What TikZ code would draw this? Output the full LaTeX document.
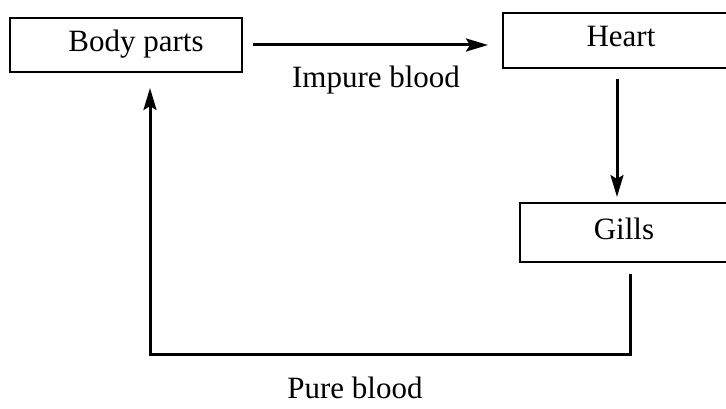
\documentclass[tikz,border=0pt]{standalone}
\usepackage{fontspec}
\setmainfont{Liberation Serif}
\usetikzlibrary{arrows.meta,calc}
\begin{document}
\begin{tikzpicture}[x=1pt,y=-1pt,
  box/.style={draw,line width=2.3pt,minimum width=#1,minimum height=55pt,inner sep=0pt},
  lbl/.style={anchor=base,inner sep=0pt,font=\fontsize{31}{36}\selectfont},
  arr/.style={line width=3pt,-{Stealth[length=22pt,width=13pt,inset=4pt]}}]
\useasboundingbox (0,0) rectangle (726,409);
\clip (0,0) rectangle (726,409);
\node[box=232pt,minimum height=54pt] (body) at (126,45) {};
\node[box=237pt] (heart) at (621.5,40.5) {};
\node[box=220pt,minimum height=59pt] (gills) at (630,232.5) {};
\node[lbl] (tbody) at (136,52) {Body parts};
\node[lbl] (theart) at (621,47) {Heart};
\node[lbl] (tgills) at (624,240) {Gills};
\node[lbl] (impure) at (376,88) {Impure blood};
\node[lbl] (pure) at (355,398) {Pure blood};
\coordinate (a1) at (253,45);
\coordinate (a2) at (488,45);
\coordinate (b1) at (617,79);
\coordinate (b2) at (617,197);
\coordinate (c1) at (630,274);
\coordinate (c2) at (630,354);
\coordinate (c3) at (150,354);
\coordinate (c4) at (150,88);
\draw[arr] (a1) -- (a2);
\draw[arr] (b1) -- (b2);
\draw[arr,line join=miter] (c1) -- (c2) -- (c3) -- (c4);
\end{tikzpicture}
\end{document}
